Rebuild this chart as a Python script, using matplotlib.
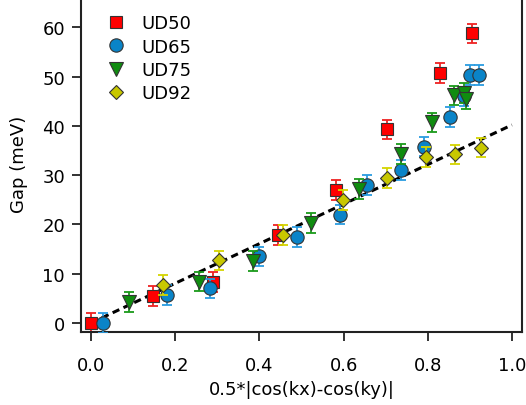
import matplotlib
matplotlib.use("Agg")
import matplotlib.pyplot as plt
from matplotlib.lines import Line2D

plt.rcParams['font.family'] = ['DejaVu Sans']

# ---- data ----
ud50_x = [0.0, 0.146, 0.289, 0.445, 0.582, 0.704, 0.829, 0.906]
ud50_y = [0.0, 5.4, 8.3, 17.8, 27.0, 39.3, 50.8, 58.8]
ud50_e = [2.0, 2.0, 2.0, 2.0, 2.0, 2.0, 2.0, 2.0]

ud65_x = [0.029, 0.180, 0.283, 0.400, 0.490, 0.591, 0.656, 0.736, 0.792, 0.853, 0.887, 0.900, 0.922]
ud65_y = [0.0, 5.6, 7.0, 13.5, 17.4, 22.0, 28.0, 31.1, 35.8, 41.8, 46.0, 50.4, 50.4]
ud65_e = [2.0] * 13

ud75_x = [0.089, 0.257, 0.384, 0.522, 0.636, 0.736, 0.809, 0.862, 0.885, 0.890]
ud75_y = [4.3, 8.4, 12.6, 20.3, 27.2, 34.3, 40.7, 46.2, 46.7, 45.4]
ud75_e = [2.0] * 10

ud92_x = [0.172, 0.305, 0.455, 0.598, 0.704, 0.796, 0.865, 0.926]
ud92_y = [7.7, 12.7, 17.9, 24.9, 29.4, 33.7, 34.2, 35.6]
ud92_e = [2.0] * 8

fit_x = [0.0, 1.0]
fit_y = [0.0, 40.2]

x_ticks = [0.0, 0.2, 0.4, 0.6, 0.8, 1.0]
y_ticks = [0, 10, 20, 30, 40, 50, 60]

# ---- figure ----
fig = plt.figure(figsize=(5.26, 4.06), dpi=100)
ax = fig.add_axes([81/526, (406-333)/406, (522-81)/526, 333/406 + 0.01])

ax.plot(fit_x, fit_y, color='black', lw=2.2, dashes=(2.4, 1.5), zorder=1)

series = [
    ("UD50", ud50_x, ud50_y, ud50_e, 's', 8.0, '#ff0000', '#ee2222'),
    ("UD65", ud65_x, ud65_y, ud65_e, 'o', 9.6, '#0a84c8', '#2a9ce0'),
    ("UD75", ud75_x, ud75_y, ud75_e, 'v', 9.8, '#108c10', '#1a9a1a'),
    ("UD92", ud92_x, ud92_y, ud92_e, 'D', 7.4, '#c8c800', '#d4d400'),
]
handles = []
for i, (name, xs, ys, es, mk, ms, fc, ec) in enumerate(series):
    ax.errorbar(xs, ys, yerr=es, fmt='none', ecolor=ec, elinewidth=1.3,
                capsize=3.3, capthick=1.3, zorder=2 + 2*i)
    ax.plot(xs, ys, linestyle='none', marker=mk, ms=ms, mfc=fc,
            mec='#333333', mew=0.8, zorder=3 + 2*i)
    handles.append(Line2D([], [], linestyle='none', marker=mk, ms=ms,
                          mfc=fc, mec='#333333', mew=0.8, label=name))

ax.set_xlim(-0.024, 1.024)
ax.set_ylim(-1.85, 66.6)
ax.set_xticks(x_ticks)
ax.set_xticklabels([f"{v:.1f}" for v in x_ticks])
ax.set_yticks(y_ticks)
ax.set_yticklabels([str(v) for v in y_ticks])

for s in ax.spines.values():
    s.set_linewidth(1.5)
    s.set_color('#222222')
ax.spines['top'].set_visible(False)
ax.tick_params(direction='out', length=6.5, width=1.3, labelsize=13,
               color='#222222', pad=5)
ax.tick_params(axis='x', pad=11)

ax.set_xlabel("0.5*|cos(kx)-cos(ky)|", fontsize=13, labelpad=4)
ax.set_ylabel("Gap (meV)", fontsize=13, labelpad=10)

leg = ax.legend(handles=handles, loc='upper left', frameon=False,
                fontsize=13, handlelength=1.0, handletextpad=0.9,
                labelspacing=0.3, borderaxespad=0,
                bbox_to_anchor=(100/526, 1 - 8/406), bbox_transform=fig.transFigure)

fig.savefig("out.png", dpi=100)
